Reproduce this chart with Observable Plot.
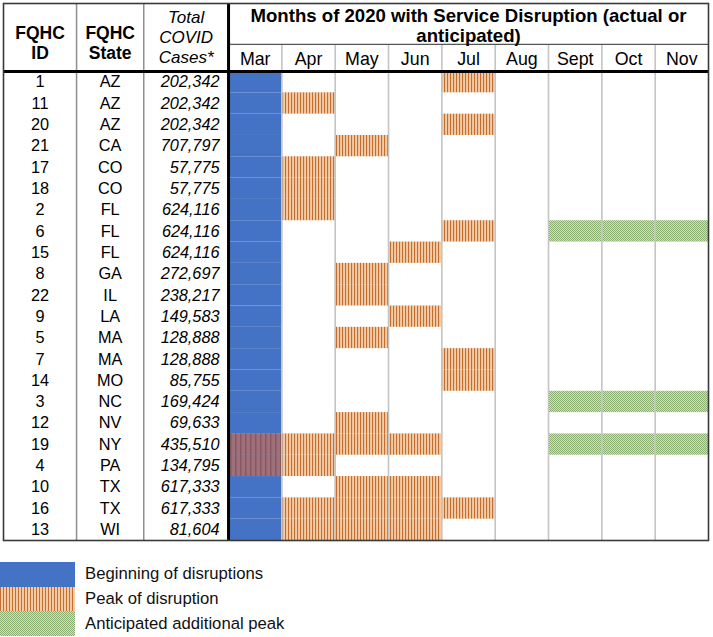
<!DOCTYPE html>
<html><head><meta charset="utf-8">
<script src="https://cdn.jsdelivr.net/npm/d3@7"></script>
<script src="https://cdn.jsdelivr.net/npm/@observablehq/plot@0.6"></script>
<style>
body{margin:0;background:#fff;font-family:"Liberation Sans",Arial,sans-serif;}
#legend{margin-top:17px;}
.lrow{display:flex;align-items:center;height:24.7px;}
.sw{width:75px;height:100%;}
.lab{margin-left:10px;font-size:16.7px;color:#111;}
.sw.begin{background:#4472c4;}
.sw.peak{background:repeating-linear-gradient(90deg,#c46e30 0 1.1px,#f3cca6 1.1px 3px);}
.sw.antic{background:repeating-conic-gradient(#8aae70 0 25%,#cfe1c2 0 50%) 0 0/2px 2px;}
</style></head><body><div id="chart"></div><div id="legend"></div>
<script>
// ---- data ----
const ids = [1,11,20,21,17,18,2,6,15,8,22,9,5,7,14,3,12,19,4,10,16,13];
const states = ["AZ","AZ","AZ","CA","CO","CO","FL","FL","FL","GA","IL","LA","MA","MA","MO","NC","NV","NY","PA","TX","TX","WI"];
const cases = [202342,202342,202342,707797,57775,57775,624116,624116,624116,272697,238217,149583,128888,128888,85755,169424,69633,435510,134795,617333,617333,81604];
const months = ["Mar","Apr","May","Jun","Jul","Aug","Sept","Oct","Nov"];
const beginMonths = ids.map(() => ["Mar"]);
const peakMonths = [["Jul"],["Apr"],["Jul"],["May"],["Apr"],["Apr"],["Apr"],["Jul"],["Jun"],["May"],["May"],["Jun"],["May"],["Jul"],["Jul"],[],["May"],["Mar","Apr","May","Jun"],["Mar","Apr"],["May","Jun"],["Apr","May","Jun","Jul"],["Apr","May","Jun"]];
const anticipatedMonths = [[],[],[],[],[],[],[],["Sept","Oct","Nov"],[],[],[],[],[],[],[],["Sept","Oct","Nov"],[],["Sept","Oct","Nov"],[],[],[],[]];
const headerLabels = ["FQHC\nID","FQHC\nState"];
const casesHeader = "Total\nCOVID\nCases*";
const title = "Months of 2020 with Service Disruption (actual or\nanticipated)";
const legendLabels = ["Beginning of disruptions","Peak of disruption","Anticipated additional peak"];

// ---- layout (column widths in month units, header heights in row units) ----
const leftWidths = [1.37, 1.26, 1.59];
const edges = [0];
leftWidths.forEach(w => edges.push(edges[edges.length-1] + w));
months.forEach(() => edges.push(edges[edges.length-1] + 1));
const xMax = edges[edges.length-1];
const headH = 3.19, monthRowH = 1.27;
const mc = m => 3 + months.indexOf(m);
const center = c => (edges[c] + edges[c+1]) / 2;

const cells = (lists) => lists.flatMap((ms, r) => ms.map(m => ({r, c: mc(m)})));
const beginCells = cells(beginMonths);
const beginSet = new Set(beginCells.map(d => d.r + ":" + d.c));
const peakCells = cells(peakMonths).map(d => ({...d, onBegin: beginSet.has(d.r + ":" + d.c)}));
const anticCells = cells(anticipatedMonths);
const rows = ids.map((id, i) => ({i, id, state: states[i], cases: cases[i]}));

const font = "Liberation Sans, Arial, sans-serif";
const rectOpts = {x1: d => edges[d.c], x2: d => edges[d.c+1], y1: d => d.r, y2: d => d.r + 1};

const svg = Plot.plot({
  width: 713, height: 545,
  marginLeft: 3, marginRight: 5, marginTop: 3, marginBottom: 5,
  x: {domain: [0, xMax], axis: null},
  y: {domain: [-headH, ids.length], reverse: true, axis: null},
  style: {fontFamily: font, background: "#fff"},
  marks: [
    Plot.rect(beginCells, {...rectOpts, fill: "#4472c4"}),
    Plot.rect(peakCells, {...rectOpts, fill: d => d.onBegin ? "url(#peakMar)" : "url(#peak)"}),
    Plot.rect(anticCells, {...rectOpts, fill: "url(#antic)"}),
    // grid
    Plot.ruleX(edges.slice(4, edges.length-1), {y1: -monthRowH, y2: ids.length, stroke: "#c4c4c4", strokeWidth: 1.6}),
    Plot.ruleX([edges[1], edges[2]], {y1: -headH, y2: ids.length, stroke: "#8f8f8f", strokeWidth: 1.5}),
    Plot.ruleY([-monthRowH], {x1: edges[3], x2: xMax, stroke: "#555", strokeWidth: 1.3}),
    Plot.ruleX([edges[3]], {y1: -headH, y2: ids.length, stroke: "#000", strokeWidth: 3}),
    Plot.ruleY([0], {x1: 0, x2: xMax, stroke: "#000", strokeWidth: 3}),
    Plot.frame({stroke: "#3a3a3a", strokeWidth: 1.6}),
    // body text
    Plot.text(rows, {x: center(0), y: d => d.i + 0.5, text: d => String(d.id), fontSize: 16.3, fill: "#000"}),
    Plot.text(rows, {x: center(1), y: d => d.i + 0.5, text: "state", fontSize: 16.3, fill: "#000"}),
    Plot.text(rows, {x: edges[3], dx: -9, y: d => d.i + 0.5, text: d => d3.format(",")(d.cases), textAnchor: "end", fontStyle: "italic", fontSize: 16.3, fill: "#000"}),
    // header text
    Plot.text(headerLabels, {x: (d, i) => center(i), y: -headH/2, dy: 5, text: d => d, fontWeight: "bold", fontSize: 17.5, lineHeight: 1.15, fill: "#000"}),
    Plot.text([casesHeader], {x: center(2), y: -headH/2, dy: -1, text: d => d, fontStyle: "italic", fontSize: 17, lineHeight: 1.18, fill: "#000"}),
    Plot.text(months, {x: m => center(mc(m)), y: -monthRowH/2, dy: 1, text: d => d, fontSize: 17.8, fill: "#000"}),
    Plot.text([title], {x: (edges[3] + xMax)/2, y: -(headH + monthRowH)/2, dy: 2, text: d => d, fontWeight: "bold", fontSize: 18.6, lineHeight: 1.06, fill: "#000"})
  ]
});

const defs = d3.select(svg).insert("defs", ":first-child");
const p1 = defs.append("pattern").attr("id", "peak").attr("patternUnits", "userSpaceOnUse").attr("width", 3).attr("height", 10);
p1.append("rect").attr("width", 3).attr("height", 10).attr("fill", "#f3cca6");
p1.append("rect").attr("width", 1.1).attr("height", 10).attr("fill", "#c46e30");
const p2 = defs.append("pattern").attr("id", "peakMar").attr("patternUnits", "userSpaceOnUse").attr("width", 5).attr("height", 10);
p2.append("rect").attr("width", 5).attr("height", 10).attr("fill", "#9e707c");
p2.append("rect").attr("width", 1.5).attr("height", 10).attr("fill", "#8a575e");
const p3 = defs.append("pattern").attr("id", "antic").attr("patternUnits", "userSpaceOnUse").attr("width", 2).attr("height", 2);
p3.append("rect").attr("width", 2).attr("height", 2).attr("fill", "#cfe1c2");
p3.append("rect").attr("width", 1).attr("height", 1).attr("fill", "#8aae70");
p3.append("rect").attr("x", 1).attr("y", 1).attr("width", 1).attr("height", 1).attr("fill", "#8aae70");

document.getElementById("chart").append(svg);

const cls = ["begin", "peak", "antic"];
const legend = d3.select("#legend");
legendLabels.forEach((l, i) => {
  const row = legend.append("div").attr("class", "lrow");
  row.append("div").attr("class", "sw " + cls[i]);
  row.append("div").attr("class", "lab").text(l);
});
</script></body></html>
